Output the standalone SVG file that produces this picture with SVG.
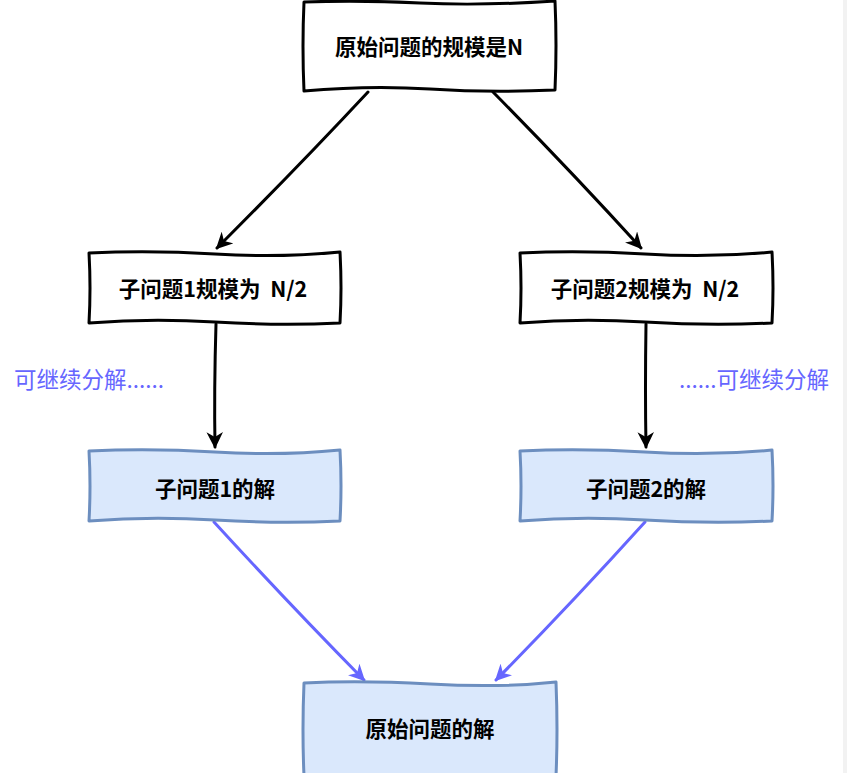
<svg xmlns="http://www.w3.org/2000/svg" width="847" height="773" viewBox="0 0 847 773">
<style>
.box{fill:#ffffff;stroke:#000000;stroke-width:3;stroke-linejoin:round}
.bbox{fill:#dae8fc;stroke:#6c8ebf;stroke-width:3;stroke-linejoin:round}
.t{font-family:"Noto Sans CJK SC","Noto Sans",sans-serif;font-weight:bold;font-size:21.5px;fill:#000;text-anchor:middle}
.lbl{font-family:"Noto Sans CJK SC","Noto Sans",sans-serif;font-size:22.5px;fill:#6666ff}
.k{fill:none;stroke:#000;stroke-width:3;stroke-linecap:round}
.b{fill:none;stroke:#6666ff;stroke-width:3;stroke-linecap:round}
</style>
<defs>
<marker id="ak" viewBox="0 0 10 10" refX="9" refY="5" markerWidth="5.5" markerHeight="5.5" orient="auto" markerUnits="strokeWidth">
<path d="M0,0 L10,5 L0,10 L3,5 Z" fill="#000"/>
</marker>
<marker id="ab" viewBox="0 0 10 10" refX="9" refY="5" markerWidth="5.5" markerHeight="5.5" orient="auto" markerUnits="strokeWidth">
<path d="M0,0 L10,5 L0,10 L3,5 Z" fill="#6666ff"/>
</marker>
</defs>
<rect x="843" y="0" width="4" height="773" fill="#f2f2f2"/>
<g id="connectors">
<path class="k" d="M368,92 Q300,165 217,248" marker-end="url(#ak)"/>
<path class="k" d="M493,92 Q570,170 641,248" marker-end="url(#ak)"/>
<path class="k" d="M216,324 Q214,390 215,447" marker-end="url(#ak)"/>
<path class="k" d="M646,324 Q645,390 646,447" marker-end="url(#ak)"/>
<path class="b" d="M214,522 Q290,605 364,680" marker-end="url(#ab)"/>
<path class="b" d="M645,522 Q570,605 496,680" marker-end="url(#ab)"/>
</g>
<g id="n1">
<path class="box" d="M304,2 Q360,0 420,3 T555,1 Q557,45 555,90 Q490,93 430,89 T304,91 Q302,46 304,2 Z"/>
<text class="t" x="429" y="55">原始问题的规模是N</text>
</g>
<g id="n2">
<path class="box" d="M89,253 Q150,250 215,254 T340,252 Q342,288 340,323 Q280,326 215,322 T89,323 Q91,288 89,253 Z"/>
<text class="t" x="213" y="297" xml:space="preserve">子问题1规模为  N/2</text>
</g>
<g id="n3">
<path class="box" d="M520,253 Q580,250 645,254 T772,252 Q774,288 772,323 Q710,326 645,322 T520,323 Q522,288 520,253 Z"/>
<text class="t" x="645" y="297" xml:space="preserve">子问题2规模为  N/2</text>
</g>
<g id="n4">
<path class="bbox" d="M89,451 Q150,448 215,452 T340,450 Q342,486 340,521 Q280,524 215,520 T89,521 Q91,486 89,451 Z"/>
<text class="t" x="215" y="497">子问题1的解</text>
</g>
<g id="n5">
<path class="bbox" d="M520,451 Q580,448 645,452 T772,450 Q774,486 772,521 Q710,524 645,520 T520,521 Q522,486 520,451 Z"/>
<text class="t" x="646" y="497">子问题2的解</text>
</g>
<g id="n6">
<path class="bbox" d="M304,683 Q360,680 430,684 T556,682 Q558,730 556,776 L304,776 Q302,730 304,683 Z"/>
<text class="t" x="430" y="737">原始问题的解</text>
</g>
<g id="labels">
<text class="lbl" x="14" y="388">可继续分解......</text>
<text class="lbl" x="829" y="388" text-anchor="end">......可继续分解</text>
</g>
</svg>
